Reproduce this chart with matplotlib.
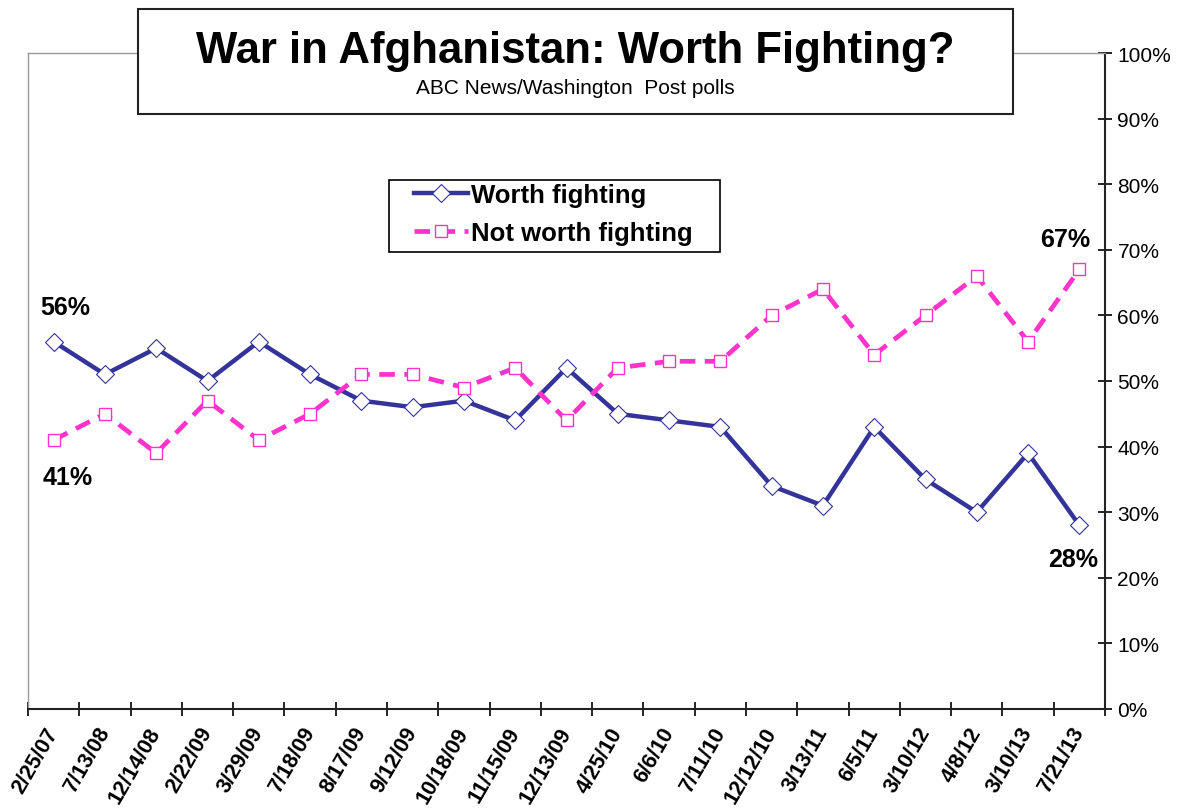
import matplotlib
matplotlib.use("Agg")
import matplotlib.pyplot as plt
from matplotlib.patches import Rectangle
from matplotlib.ticker import FixedLocator, FuncFormatter

plt.rcParams['font.family'] = ['Liberation Sans', 'DejaVu Sans']

# poll dates and results (percent)
dates = ["2/25/07", "7/13/08", "12/14/08", "2/22/09", "3/29/09", "7/18/09",
         "8/17/09", "9/12/09", "10/18/09", "11/15/09", "12/13/09", "4/25/10",
         "6/6/10", "7/11/10", "12/12/10", "3/13/11", "6/5/11", "3/10/12",
         "4/8/12", "3/10/13", "7/21/13"]
worth = [56, 51, 55, 50, 56, 51, 47, 46, 47, 44, 52, 45, 44, 43, 34, 31, 43, 35, 30, 39, 28]
not_worth = [41, 45, 39, 47, 41, 45, 51, 51, 49, 52, 44, 52, 53, 53, 60, 64, 54, 60, 66, 56, 67]
y_ticks = [0, 10, 20, 30, 40, 50, 60, 70, 80, 90, 100]

navy = "#333399"
pink = "#ff33cc"

W, H = 1186, 812
fig = plt.figure(figsize=(W / 100, H / 100), dpi=100)
ax = fig.add_axes([28 / W, 1 - 710 / H, (1105 - 28) / W, (710 - 54) / H])

x = list(range(len(dates)))
l1, = ax.plot(x, worth, color=navy, lw=3.2, marker="D", markersize=9.5,
              markerfacecolor="white", markeredgecolor=navy, markeredgewidth=0.8,
              label="Worth fighting", zorder=3)
l2, = ax.plot(x, not_worth, color=pink, lw=3.4, dashes=(3.3, 2.0), marker="s", markersize=9,
              markerfacecolor="white", markeredgecolor=pink, markeredgewidth=1.0,
              label="Not worth fighting", zorder=3)

ax.set_xlim(-0.5, len(dates) - 0.5)
ax.set_ylim(0, 100)

# category labels at centres, tick marks at boundaries
ax.xaxis.set_major_locator(FixedLocator(x))
ax.set_xticklabels(dates, rotation=60, ha="right", va="center", rotation_mode="anchor",
                   fontsize=15.5, fontweight="bold")
ax.tick_params(axis="x", which="major", length=0, pad=14)
ax.xaxis.set_minor_locator(FixedLocator([i - 0.5 for i in range(len(dates) + 1)]))
ax.tick_params(axis="x", which="minor", direction="inout", length=10, width=1.2)

ax.yaxis.tick_right()
ax.yaxis.set_major_locator(FixedLocator(y_ticks))
ax.yaxis.set_major_formatter(FuncFormatter(lambda v, p: f"{int(v)}%"))
ax.tick_params(axis="y", direction="inout", length=10, width=1.2, labelsize=15, pad=4)

for side in ["left", "top"]:
    ax.spines[side].set_color("#999999")
    ax.spines[side].set_linewidth(1.0)
for side in ["right", "bottom"]:
    ax.spines[side].set_color("#222222")
    ax.spines[side].set_linewidth(1.5)

# end-point labels
lbl = dict(textcoords="offset pixels", ha="center", va="center",
           fontsize=18, fontweight="bold")
ax.annotate(f"{worth[0]}%", (0, worth[0]), xytext=(12, 35), **lbl)
ax.annotate(f"{not_worth[0]}%", (0, not_worth[0]), xytext=(14, -37), **lbl)
ax.annotate(f"{not_worth[-1]}%", (x[-1], not_worth[-1]), xytext=(-14, 30), **lbl)
ax.annotate(f"{worth[-1]}%", (x[-1], worth[-1]), xytext=(-6, -34), **lbl)

# legend frame drawn separately so the padding can differ per side
leg_box = Rectangle((389 / W, 1 - 253 / H), 331 / W, 72 / H, transform=fig.transFigure,
                    facecolor="white", edgecolor="black", lw=1.2, zorder=4)
fig.patches.append(leg_box)
leg = fig.legend(handles=[l1, l2], loc="upper left", bbox_to_anchor=(414 / W, 1 - 184 / H),
                 bbox_transform=fig.transFigure, borderaxespad=0, frameon=False,
                 handlelength=2.1, handletextpad=0.1, borderpad=0, labelspacing=0.55,
                 prop={"size": 18.5, "weight": "bold"})
leg.set_zorder(6)

# title box
box = Rectangle((138 / W, 1 - 115 / H), 875 / W, 105 / H, transform=fig.transFigure,
                facecolor="white", edgecolor="#222222", lw=1.5, zorder=5)
fig.patches.append(box)
fig.text(575 / W, 1 - 51 / H, "War in Afghanistan: Worth Fighting?", ha="center",
         va="center", fontsize=31.5, fontweight="bold", zorder=6)
fig.text(575 / W, 1 - 88 / H, "ABC News/Washington  Post polls", ha="center",
         va="center", fontsize=15, zorder=6)

fig.savefig("out.png", dpi=100)
